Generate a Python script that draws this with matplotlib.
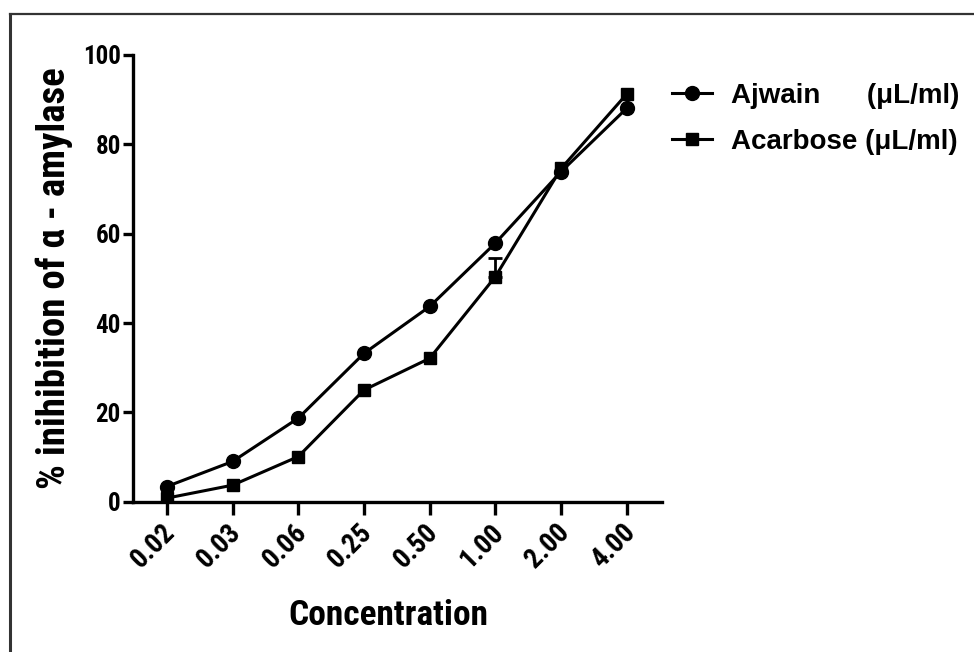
import numpy as np
import matplotlib
matplotlib.use("Agg")
import matplotlib.pyplot as plt
from matplotlib import font_manager as fm
from matplotlib.lines import Line2D
import matplotlib.transforms as mtransforms

# ---- data ----
concentrations = ["0.02", "0.03", "0.06", "0.25", "0.50", "1.00", "2.00", "4.00"]
ajwain = [3.4, 9.0, 18.7, 33.2, 43.7, 57.9, 73.9, 88.1]
acarbose = [0.8, 3.7, 10.1, 25.0, 32.1, 50.4, 74.6, 91.3]
acarbose_err = [0, 0, 0, 0, 0, 4.1, 0, 0]
y_ticks = [0, 20, 40, 60, 80, 100]
series_labels = ["Ajwain      (\u03bcL/ml)", "Acarbose (\u03bcL/ml)"]
x_title = "Concentration"
y_title = "% inihibition of \u03b1 - amylase"

names = {f.name for f in fm.fontManager.ttflist}
cond = None
for cand in ["Liberation Sans Narrow", "Roboto Condensed", "Open Sans Condensed"]:
    if cand in names:
        cond = cand
        break
axis_family = [cond, "Liberation Sans", "DejaVu Sans"] if cond else ["Liberation Sans", "DejaVu Sans"]
# font sizes (condensed font gets larger sizes)
if cond:
    ytick_fs, xtick_fs, xlab_fs, ylab_fs = 18, 20, 25.5, 28
else:
    ytick_fs, xtick_fs, xlab_fs, ylab_fs = 16.5, 18.5, 21.8, 24.2

plt.rcParams["font.family"] = ["Liberation Sans", "DejaVu Sans"]
plt.rcParams["font.weight"] = "bold"

W, H = 974, 652
fig = plt.figure(figsize=(W / 100, H / 100), dpi=100)
fig.patch.set_facecolor("white")

x0, x1, y0, y1 = 133.3, 661.7, 501.7, 55.0
ax = fig.add_axes([x0 / W, 1 - y0 / H, (x1 - x0) / W, (y0 - y1) / H])

x = np.arange(len(concentrations))
ax.plot(x, ajwain, color="black", lw=2.2, marker="o", ms=10, zorder=3,
        label=series_labels[0])
ax.plot(x, acarbose, color="black", lw=2.2, marker="s", ms=9.2, zorder=3,
        label=series_labels[1])
err = np.array(acarbose_err)
m = err > 0
ax.errorbar(x[m], np.array(acarbose)[m], yerr=[np.zeros(m.sum()), err[m]],
            fmt="none", ecolor="black", elinewidth=2, capsize=5, capthick=2, zorder=2)

ax.set_xlim(-0.51, 7.53)
ax.set_ylim(0, 100)
ax.set_yticks(y_ticks)
ax.set_xticks(x)
ax.set_xticklabels(concentrations)

for s in ["top", "right"]:
    ax.spines[s].set_visible(False)
for s in ["left", "bottom"]:
    ax.spines[s].set_linewidth(2.4)
ax.spines["left"].set_capstyle("projecting")
ax.tick_params(axis="y", length=7.5, width=2.4, direction="out", pad=1.5,
               labelsize=ytick_fs)
ax.tick_params(axis="x", length=9, width=2.4, direction="out", pad=3,
               labelsize=xtick_fs)
for lab in ax.get_yticklabels():
    lab.set_fontfamily(axis_family)
    lab.set_fontweight("bold")
offset = mtransforms.ScaledTranslation(-5 / 100, 0, fig.dpi_scale_trans)
for lab in ax.get_xticklabels():
    lab.set_fontfamily(axis_family)
    lab.set_fontweight("bold")
    lab.set_rotation(45)
    lab.set_ha("right")
    lab.set_va("top")
    lab.set_rotation_mode("anchor")
    lab.set_transform(lab.get_transform() + offset)

ax.set_xlabel(x_title, fontsize=xlab_fs, fontweight="bold", family=axis_family)
ax.xaxis.set_label_coords((388 - x0) / (x1 - x0), -(599 - y0) / (y0 - y1))
ax.set_ylabel(y_title, fontsize=ylab_fs, fontweight="bold", family=axis_family,
              labelpad=7)

leg = ax.legend(loc="upper left", bbox_to_anchor=(671.7 / W, 1 - 83 / H),
                bbox_transform=fig.transFigure, frameon=False, fontsize=20,
                handlelength=1.45, handletextpad=0.7, labelspacing=0.72,
                borderpad=0, borderaxespad=0)
for t in leg.get_texts():
    t.set_fontweight("bold")

# figure border (top and left visible)
fig.add_artist(Line2D([10 / W, 10 / W], [0, 1 - 14 / H], transform=fig.transFigure,
                      color="#333333", lw=2.2))
fig.add_artist(Line2D([10 / W, 1], [1 - 14 / H, 1 - 14 / H], transform=fig.transFigure,
                      color="#333333", lw=1.6))

fig.savefig("out.png", dpi=100, facecolor="white")
